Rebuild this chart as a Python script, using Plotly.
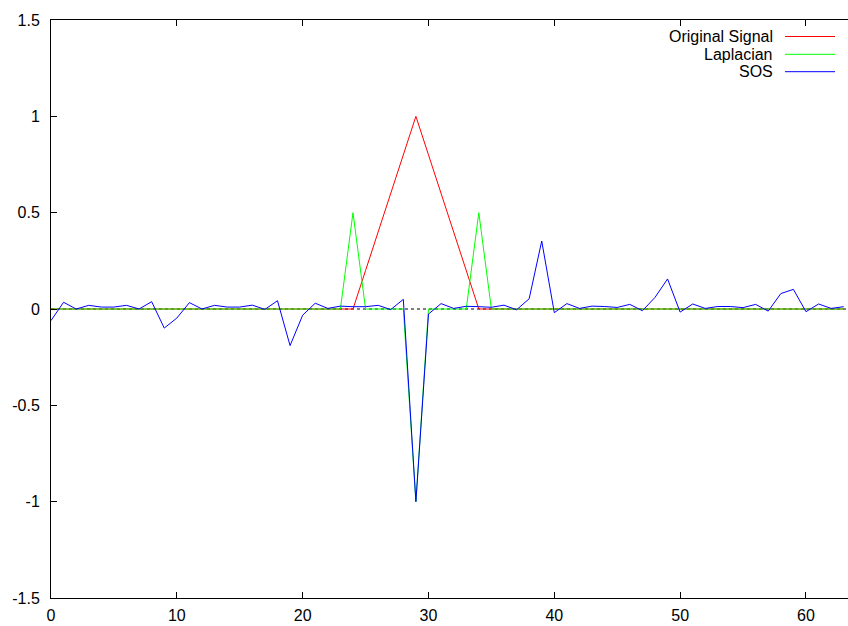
import plotly.graph_objects as go

n_points = 64
x_index = list(range(n_points))

original_signal = [0.0] * 24 + [0.0, 0.2, 0.4, 0.6, 0.8, 1.0, 0.8, 0.6, 0.4, 0.2, 0.0] + [0.0] * 29

laplacian = [0.0] * 24 + [0.5, 0, 0, 0, 0, -1.0, 0, 0, 0, 0, 0.5] + [0.0] * 29

sos = [
    -0.06, 0.035, 0.0, 0.019, 0.01, 0.01, 0.019, 0.0, 0.038, -0.099,
    -0.047, 0.033, 0.0, 0.019, 0.01, 0.01, 0.02, -0.002, 0.043, -0.19,
    -0.032, 0.03, 0.003, 0.015, 0.012, 0.012, 0.019, -0.003, 0.05, -1.0,
    -0.026, 0.028, 0.003, 0.014, 0.012, 0.009, 0.02, -0.004, 0.053, 0.353,
    -0.019, 0.028, 0.003, 0.015, 0.013, 0.008, 0.024, -0.009, 0.06, 0.156,
    -0.016, 0.026, 0.003, 0.013, 0.013, 0.007, 0.024, -0.011, 0.08, 0.102,
    -0.014, 0.026, 0.003, 0.012,
]

series_names = ["Original Signal", "Laplacian", "SOS"]
series_colors = ["#ff0000", "#00ff00", "#0000ff"]
series_values = [original_signal, laplacian, sos]

y_ticks = [-1.5, -1, -0.5, 0, 0.5, 1, 1.5]
y_tick_labels = ["-1.5", "-1", "-0.5", "0", "0.5", "1", "1.5"]
x_ticks = [0, 10, 20, 30, 40, 50, 60]

W, H = 848, 626
L, T, B = 51, 20, 28
PW, PH = W - L, H - T - B

fig = go.Figure()
for name, color, vals in zip(series_names, series_colors, series_values):
    fig.add_trace(go.Scatter(x=x_index, y=vals, mode="lines", name=name,
                             line=dict(color=color, width=1), showlegend=False))

font = dict(family="Liberation Sans, Arial, sans-serif", size=16, color="#000000")
legend_font = dict(family="Liberation Sans, Arial, sans-serif", size=16, color="#000000")

shapes = [dict(type="line", xref="paper", yref="y", x0=0, x1=1, y0=0, y1=0,
               line=dict(color="#000000", width=1, dash="dot"), layer="below")]
annotations = []
legend_y_px = [36.5, 54.3, 71.7]
for name, color, ypx in zip(series_names, series_colors, legend_y_px):
    yp = (H - B - ypx) / PH
    shapes.append(dict(type="line", xref="paper", yref="paper",
                       x0=(785 - L) / PW, x1=(835 - L) / PW, y0=yp, y1=yp,
                       line=dict(color=color, width=1)))
    annotations.append(dict(xref="paper", yref="paper", x=(774 - L) / PW, y=yp,
                            xanchor="right", yanchor="middle", text=name,
                            showarrow=False, font=legend_font, borderpad=0))

fig.update_layout(
    width=W, height=H,
    margin=dict(l=L, r=0, t=T, b=B, autoexpand=False),
    paper_bgcolor="white", plot_bgcolor="white",
    font=font,
    shapes=shapes, annotations=annotations,
    showlegend=False,
    xaxis=dict(range=[0, 63.34], tickvals=x_ticks, ticktext=[str(v) for v in x_ticks],
               ticks="inside", ticklen=6, tickcolor="#000", showline=True,
               linecolor="#000", linewidth=1, mirror="allticks", showgrid=False,
               zeroline=False, tickfont=font, ticklabelstandoff=3),
    yaxis=dict(range=[-1.5, 1.5], tickvals=y_ticks, ticktext=y_tick_labels,
               ticks="inside", ticklen=6, tickcolor="#000", showline=True,
               linecolor="#000", linewidth=1, mirror=False, showgrid=False,
               zeroline=False, tickfont=font, ticklabelstandoff=7),
)

fig.write_html("out.html", config={"displayModeBar": False},
               post_script="document.body.style.margin='0px';document.body.style.overflow='hidden';")
